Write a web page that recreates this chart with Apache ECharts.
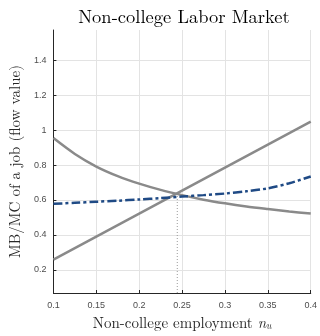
<!DOCTYPE html>
<html>
<head>
<meta charset="utf-8">
<script src="https://cdn.jsdelivr.net/npm/echarts@6/dist/echarts.min.js"></script>
<style>
  html, body { margin: 0; padding: 0; background: #fff; }
  #chart { width: 320px; height: 336px; }
</style>
</head>
<body>
<div id="chart"></div>
<script>
// Employment grid (non-college employment n_u)
const employment = [0.1, 0.125, 0.15, 0.175, 0.2, 0.225, 0.25, 0.275, 0.3, 0.325, 0.35, 0.375, 0.4];
// Marginal benefit of a job (falling)
const marginalBenefit = [0.955, 0.864, 0.792, 0.737, 0.694, 0.658, 0.628, 0.602, 0.581, 0.563, 0.548, 0.534, 0.522];
// Marginal cost of a job (rising, linear)
const marginalCost = [0.258, 0.324, 0.390, 0.456, 0.522, 0.588, 0.654, 0.720, 0.786, 0.852, 0.918, 0.984, 1.05];
// Flow value (dash-dot)
const flowValue = [0.578, 0.584, 0.59, 0.596, 0.603, 0.611, 0.62, 0.628, 0.637, 0.65, 0.667, 0.696, 0.735];
// Equilibrium marker: employment and value where the curves cross
const equilibrium = { n: 0.2444, value: 0.634 };
const yTicks = [0.2, 0.4, 0.6, 0.8, 1, 1.2, 1.4];
const yRange = [0.0667, 1.575];
const xRange = [0.1, 0.4];

const pairs = (xs, ys) => xs.map((x, i) => [x, ys[i]]);

const chart = echarts.init(document.getElementById('chart'), null, { renderer: 'canvas' });
const tickFont = { fontFamily: 'Liberation Sans, Arial, sans-serif', fontSize: 9, color: '#4d4d4d' };
const serif = 'Latin Modern Roman, Liberation Serif, serif';

chart.setOption({
  animation: false,
  backgroundColor: '#fff',
  title: {
    text: 'Non-college Labor Market',
    left: 179, top: 3, textAlign: 'center',
    textStyle: { fontFamily: serif, fontSize: 18.5, fontWeight: 'normal', color: '#000' }
  },
  grid: { left: 44, right: 6, top: 30, bottom: 34, containLabel: false },
  xAxis: {
    type: 'value', min: xRange[0], max: xRange[1], interval: 0.05,
    name: '{t|Non-college employment }{n|n}{s|u}',
    nameLocation: 'middle', nameGap: 22,
    nameTextStyle: {
      rich: {
        t: { fontFamily: serif, fontSize: 15, color: '#262626' },
        n: { fontFamily: serif, fontSize: 15, fontStyle: 'italic', color: '#262626' },
        s: { fontFamily: serif, fontSize: 10, fontStyle: 'italic', color: '#262626', verticalAlign: 'bottom', padding: [6, 0, 0, 0] }
      }
    },
    axisLine: { show: true, lineStyle: { color: '#262626', width: 1 } },
    axisTick: { show: true, inside: true, length: 3, lineStyle: { color: '#262626' } },
    axisLabel: { ...tickFont, margin: 8 },
    splitLine: { show: true, lineStyle: { color: '#e3e3e3', width: 1 } }
  },
  yAxis: {
    type: 'value', min: yRange[0], max: yRange[1],
    name: 'MB/MC of a job (flow value)',
    nameLocation: 'middle', nameGap: 27,
    nameTextStyle: { fontFamily: serif, fontSize: 15, color: '#262626' },
    axisLine: { show: true, lineStyle: { color: '#262626', width: 1 } },
    axisTick: { show: true, inside: true, length: 3, customValues: yTicks, lineStyle: { color: '#262626' } },
    axisLabel: { ...tickFont, margin: 7, customValues: yTicks },
    splitLine: { show: true, lineStyle: { color: '#e3e3e3', width: 1 } }
  },
  series: [
    {
      type: 'line', data: pairs(employment, marginalBenefit), showSymbol: false, smooth: 0.3,
      lineStyle: { color: '#8a8a8a', width: 2.5 }, z: 3
    },
    {
      type: 'line', data: pairs(employment, marginalCost), showSymbol: false,
      lineStyle: { color: '#8a8a8a', width: 2.5 }, z: 3
    },
    {
      type: 'line', data: pairs(employment, flowValue), showSymbol: false, smooth: 0.3,
      lineStyle: { color: '#1f4a85', width: 2.5, type: [9, 3, 3, 3] }, z: 4
    },
    {
      type: 'line', data: [[equilibrium.n, yRange[0]], [equilibrium.n, equilibrium.value]], showSymbol: false,
      lineStyle: { color: '#9a9a9a', width: 1, type: [1, 2] }, z: 2
    }
  ]
});
</script>
</body>
</html>
